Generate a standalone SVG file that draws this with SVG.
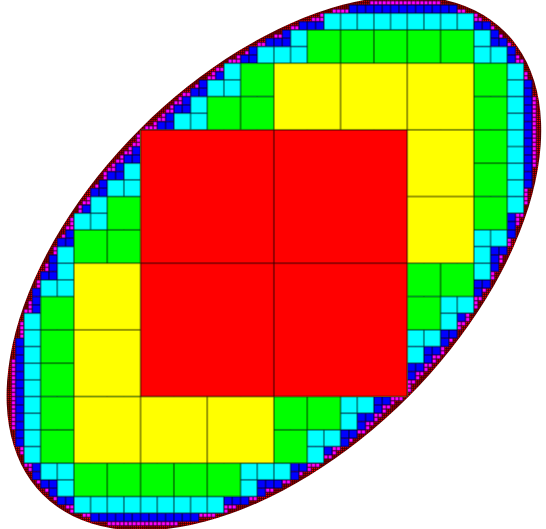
<svg xmlns="http://www.w3.org/2000/svg" width="546" height="529" viewBox="0 0 546 529">
<defs>
<style>
.cell{stroke:#000;stroke-opacity:0.8;stroke-width:0.12}
</style>
<pattern id="p1" patternUnits="userSpaceOnUse" width="16" height="16"><rect class="cell" width="16" height="16" fill="#ff0000"/></pattern>
<pattern id="p2" patternUnits="userSpaceOnUse" width="8" height="8"><rect class="cell" width="8" height="8" fill="#ffff00"/></pattern>
<pattern id="p3" patternUnits="userSpaceOnUse" width="4" height="4"><rect class="cell" width="4" height="4" fill="#00ff00"/></pattern>
<pattern id="p4" patternUnits="userSpaceOnUse" width="2" height="2"><rect class="cell" width="2" height="2" fill="#00ffff"/></pattern>
<pattern id="p5" patternUnits="userSpaceOnUse" width="1" height="1"><rect class="cell" width="1" height="1" fill="#0000ff"/></pattern>
<pattern id="p6" patternUnits="userSpaceOnUse" width="0.5" height="0.5"><rect class="cell" width="0.5" height="0.5" fill="#ff00ff"/></pattern>
<pattern id="p7" patternUnits="userSpaceOnUse" width="0.25" height="0.25"><rect class="cell" width="0.25" height="0.25" fill="#ff0000"/></pattern>
<clipPath id="ell"><ellipse cx="0" cy="0" rx="39.25" ry="22.75" transform="rotate(-45)"/></clipPath>
</defs>
<rect width="546" height="529" fill="#ffffff"/>
<g transform="translate(273.9 263.2) scale(8.33333)">
<g id="level7" fill="url(#p7)">
<rect x="-33" y="-33" width="66" height="66" clip-path="url(#ell)"/>
</g>
<g id="level6" fill="url(#p6)">
<rect x="-27.5" y="0" width="54.5" height="1"/>
<rect x="-28" y="1" width="54.5" height="1"/>
<rect x="-28.5" y="2" width="54.5" height="1"/>
<rect x="-29" y="3" width="54.5" height="0.5"/>
<rect x="-29" y="3.5" width="54" height="1"/>
<rect x="-29.5" y="4.5" width="54" height="1"/>
<rect x="-30" y="5.5" width="54" height="0.5"/>
<rect x="-30" y="6" width="53.5" height="1"/>
<rect x="-30.5" y="7" width="53.5" height="0.5"/>
<rect x="-30.5" y="7.5" width="53" height="0.5"/>
<rect x="-30.5" y="8" width="52.5" height="1"/>
<rect x="-31" y="9" width="52.5" height="0.5"/>
<rect x="-31" y="9.5" width="52" height="0.5"/>
<rect x="-31" y="10" width="51.5" height="1"/>
<rect x="-31" y="11" width="51" height="0.5"/>
<rect x="-31.5" y="11.5" width="51" height="0.5"/>
<rect x="-31.5" y="12" width="50.5" height="0.5"/>
<rect x="-31.5" y="12.5" width="50" height="0.5"/>
<rect x="-31.5" y="13" width="49.5" height="0.5"/>
<rect x="-31.5" y="13.5" width="49" height="0.5"/>
<rect x="-31.5" y="14" width="48.5" height="0.5"/>
<rect x="-31.5" y="14.5" width="48" height="1"/>
<rect x="-31.5" y="15.5" width="47.5" height="0.5"/>
<rect x="-31.5" y="16" width="47" height="0.5"/>
<rect x="-31.5" y="16.5" width="46" height="0.5"/>
<rect x="-31.5" y="17" width="45.5" height="0.5"/>
<rect x="-31.5" y="17.5" width="45" height="0.5"/>
<rect x="-31.5" y="18" width="44.5" height="0.5"/>
<rect x="-31.5" y="18.5" width="44" height="0.5"/>
<rect x="-31.5" y="19" width="43.5" height="0.5"/>
<rect x="-31.5" y="19.5" width="43" height="0.5"/>
<rect x="-31" y="20" width="42" height="0.5"/>
<rect x="-31" y="20.5" width="41" height="0.5"/>
<rect x="-31" y="21" width="40.5" height="0.5"/>
<rect x="-31" y="21.5" width="40" height="0.5"/>
<rect x="-30.5" y="22" width="38.5" height="0.5"/>
<rect x="-30.5" y="22.5" width="38" height="0.5"/>
<rect x="-30" y="23" width="37" height="0.5"/>
<rect x="-30" y="23.5" width="36" height="0.5"/>
<rect x="-30" y="24" width="35.5" height="0.5"/>
<rect x="-29.5" y="24.5" width="34" height="0.5"/>
<rect x="-29" y="25" width="32.5" height="0.5"/>
<rect x="-29" y="25.5" width="32" height="0.5"/>
<rect x="-28.5" y="26" width="30.5" height="0.5"/>
<rect x="-28" y="26.5" width="29" height="0.5"/>
<rect x="-27.5" y="27" width="27.5" height="0.5"/>
<rect x="-27" y="27.5" width="26" height="0.5"/>
<rect x="-26.5" y="28" width="24.5" height="0.5"/>
<rect x="-26" y="28.5" width="23" height="0.5"/>
<rect x="-25" y="29" width="20.5" height="0.5"/>
<rect x="-24.5" y="29.5" width="19" height="0.5"/>
<rect x="-23" y="30" width="16" height="0.5"/>
<rect x="-22" y="30.5" width="13" height="0.5"/>
<rect x="-20" y="31" width="8.5" height="0.5"/>
<rect x="-27" y="-1" width="54.5" height="1"/>
<rect x="-26.5" y="-2" width="54.5" height="1"/>
<rect x="-26" y="-3" width="54.5" height="1"/>
<rect x="-25.5" y="-3.5" width="54.5" height="0.5"/>
<rect x="-25" y="-4.5" width="54" height="1"/>
<rect x="-24.5" y="-5.5" width="54" height="1"/>
<rect x="-24" y="-6" width="54" height="0.5"/>
<rect x="-23.5" y="-7" width="53.5" height="1"/>
<rect x="-23" y="-7.5" width="53.5" height="0.5"/>
<rect x="-22.5" y="-8" width="53" height="0.5"/>
<rect x="-22" y="-9" width="52.5" height="1"/>
<rect x="-21.5" y="-9.5" width="52.5" height="0.5"/>
<rect x="-21" y="-10" width="52" height="0.5"/>
<rect x="-20.5" y="-11" width="51.5" height="1"/>
<rect x="-20" y="-11.5" width="51" height="0.5"/>
<rect x="-19.5" y="-12" width="51" height="0.5"/>
<rect x="-19" y="-12.5" width="50.5" height="0.5"/>
<rect x="-18.5" y="-13" width="50" height="0.5"/>
<rect x="-18" y="-13.5" width="49.5" height="0.5"/>
<rect x="-17.5" y="-14" width="49" height="0.5"/>
<rect x="-17" y="-14.5" width="48.5" height="0.5"/>
<rect x="-16.5" y="-15.5" width="48" height="1"/>
<rect x="-16" y="-16" width="47.5" height="0.5"/>
<rect x="-15.5" y="-16.5" width="47" height="0.5"/>
<rect x="-14.5" y="-17" width="46" height="0.5"/>
<rect x="-14" y="-17.5" width="45.5" height="0.5"/>
<rect x="-13.5" y="-18" width="45" height="0.5"/>
<rect x="-13" y="-18.5" width="44.5" height="0.5"/>
<rect x="-12.5" y="-19" width="44" height="0.5"/>
<rect x="-12" y="-19.5" width="43.5" height="0.5"/>
<rect x="-11.5" y="-20" width="43" height="0.5"/>
<rect x="-11" y="-20.5" width="42" height="0.5"/>
<rect x="-10" y="-21" width="41" height="0.5"/>
<rect x="-9.5" y="-21.5" width="40.5" height="0.5"/>
<rect x="-9" y="-22" width="40" height="0.5"/>
<rect x="-8" y="-22.5" width="38.5" height="0.5"/>
<rect x="-7.5" y="-23" width="38" height="0.5"/>
<rect x="-7" y="-23.5" width="37" height="0.5"/>
<rect x="-6" y="-24" width="36" height="0.5"/>
<rect x="-5.5" y="-24.5" width="35.5" height="0.5"/>
<rect x="-4.5" y="-25" width="34" height="0.5"/>
<rect x="-3.5" y="-25.5" width="32.5" height="0.5"/>
<rect x="-3" y="-26" width="32" height="0.5"/>
<rect x="-2" y="-26.5" width="30.5" height="0.5"/>
<rect x="-1" y="-27" width="29" height="0.5"/>
<rect x="0" y="-27.5" width="27.5" height="0.5"/>
<rect x="1" y="-28" width="26" height="0.5"/>
<rect x="2" y="-28.5" width="24.5" height="0.5"/>
<rect x="3" y="-29" width="23" height="0.5"/>
<rect x="4.5" y="-29.5" width="20.5" height="0.5"/>
<rect x="5.5" y="-30" width="19" height="0.5"/>
<rect x="7" y="-30.5" width="16" height="0.5"/>
<rect x="9" y="-31" width="13" height="0.5"/>
<rect x="11.5" y="-31.5" width="8.5" height="0.5"/>
</g>
<g id="level5" fill="url(#p5)">
<rect x="-27" y="0" width="54" height="1"/>
<rect x="-28" y="1" width="54" height="2"/>
<rect x="-29" y="3" width="54" height="1"/>
<rect x="-29" y="4" width="53" height="2"/>
<rect x="-30" y="6" width="53" height="1"/>
<rect x="-30" y="7" width="52" height="2"/>
<rect x="-31" y="9" width="52" height="1"/>
<rect x="-31" y="10" width="51" height="1"/>
<rect x="-31" y="11" width="50" height="1"/>
<rect x="-31" y="12" width="49" height="1"/>
<rect x="-31" y="13" width="48" height="1"/>
<rect x="-31" y="14" width="47" height="2"/>
<rect x="-31" y="16" width="45" height="1"/>
<rect x="-31" y="17" width="44" height="1"/>
<rect x="-31" y="18" width="43" height="1"/>
<rect x="-31" y="19" width="42" height="1"/>
<rect x="-31" y="20" width="41" height="1"/>
<rect x="-31" y="21" width="40" height="1"/>
<rect x="-30" y="22" width="37" height="1"/>
<rect x="-30" y="23" width="36" height="1"/>
<rect x="-29" y="24" width="33" height="1"/>
<rect x="-29" y="25" width="32" height="1"/>
<rect x="-28" y="26" width="29" height="1"/>
<rect x="-27" y="27" width="26" height="1"/>
<rect x="-26" y="28" width="23" height="1"/>
<rect x="-24" y="29" width="18" height="1"/>
<rect x="-22" y="30" width="13" height="1"/>
<rect x="-27" y="-1" width="54" height="1"/>
<rect x="-26" y="-3" width="54" height="2"/>
<rect x="-25" y="-4" width="54" height="1"/>
<rect x="-24" y="-6" width="53" height="2"/>
<rect x="-23" y="-7" width="53" height="1"/>
<rect x="-22" y="-9" width="52" height="2"/>
<rect x="-21" y="-10" width="52" height="1"/>
<rect x="-20" y="-11" width="51" height="1"/>
<rect x="-19" y="-12" width="50" height="1"/>
<rect x="-18" y="-13" width="49" height="1"/>
<rect x="-17" y="-14" width="48" height="1"/>
<rect x="-16" y="-16" width="47" height="2"/>
<rect x="-14" y="-17" width="45" height="1"/>
<rect x="-13" y="-18" width="44" height="1"/>
<rect x="-12" y="-19" width="43" height="1"/>
<rect x="-11" y="-20" width="42" height="1"/>
<rect x="-10" y="-21" width="41" height="1"/>
<rect x="-9" y="-22" width="40" height="1"/>
<rect x="-7" y="-23" width="37" height="1"/>
<rect x="-6" y="-24" width="36" height="1"/>
<rect x="-4" y="-25" width="33" height="1"/>
<rect x="-3" y="-26" width="32" height="1"/>
<rect x="-1" y="-27" width="29" height="1"/>
<rect x="1" y="-28" width="26" height="1"/>
<rect x="3" y="-29" width="23" height="1"/>
<rect x="6" y="-30" width="18" height="1"/>
<rect x="9" y="-31" width="13" height="1"/>
</g>
<g id="level4" fill="url(#p4)">
<rect x="-26" y="0" width="52" height="2"/>
<rect x="-28" y="2" width="52" height="4"/>
<rect x="-30" y="6" width="52" height="2"/>
<rect x="-30" y="8" width="50" height="2"/>
<rect x="-30" y="10" width="48" height="2"/>
<rect x="-30" y="12" width="46" height="4"/>
<rect x="-30" y="16" width="42" height="2"/>
<rect x="-30" y="18" width="40" height="2"/>
<rect x="-30" y="20" width="38" height="2"/>
<rect x="-30" y="22" width="36" height="2"/>
<rect x="-28" y="24" width="30" height="2"/>
<rect x="-26" y="26" width="24" height="2"/>
<rect x="-24" y="28" width="18" height="2"/>
<rect x="-26" y="-2" width="52" height="2"/>
<rect x="-24" y="-6" width="52" height="4"/>
<rect x="-22" y="-8" width="52" height="2"/>
<rect x="-20" y="-10" width="50" height="2"/>
<rect x="-18" y="-12" width="48" height="2"/>
<rect x="-16" y="-16" width="46" height="4"/>
<rect x="-12" y="-18" width="42" height="2"/>
<rect x="-10" y="-20" width="40" height="2"/>
<rect x="-8" y="-22" width="38" height="2"/>
<rect x="-6" y="-24" width="36" height="2"/>
<rect x="-2" y="-26" width="30" height="2"/>
<rect x="2" y="-28" width="24" height="2"/>
<rect x="6" y="-30" width="18" height="2"/>
</g>
<g id="level3" fill="url(#p3)">
<rect x="-24" y="0" width="48" height="4"/>
<rect x="-28" y="4" width="48" height="4"/>
<rect x="-28" y="8" width="44" height="8"/>
<rect x="-28" y="16" width="36" height="4"/>
<rect x="-28" y="20" width="32" height="4"/>
<rect x="-24" y="24" width="20" height="4"/>
<rect x="-24" y="-4" width="48" height="4"/>
<rect x="-20" y="-8" width="48" height="4"/>
<rect x="-16" y="-16" width="44" height="8"/>
<rect x="-8" y="-20" width="36" height="4"/>
<rect x="-4" y="-24" width="32" height="4"/>
<rect x="4" y="-28" width="20" height="4"/>
</g>
<g id="level2" fill="url(#p2)">
<rect x="-24" y="0" width="40" height="16"/>
<rect x="-24" y="16" width="24" height="8"/>
<rect x="-16" y="-16" width="40" height="16"/>
<rect x="0" y="-24" width="24" height="8"/>
</g>
<g id="level1" fill="url(#p1)">
<rect x="-16" y="-16" width="32" height="32"/>
</g>
</g>
</svg>
